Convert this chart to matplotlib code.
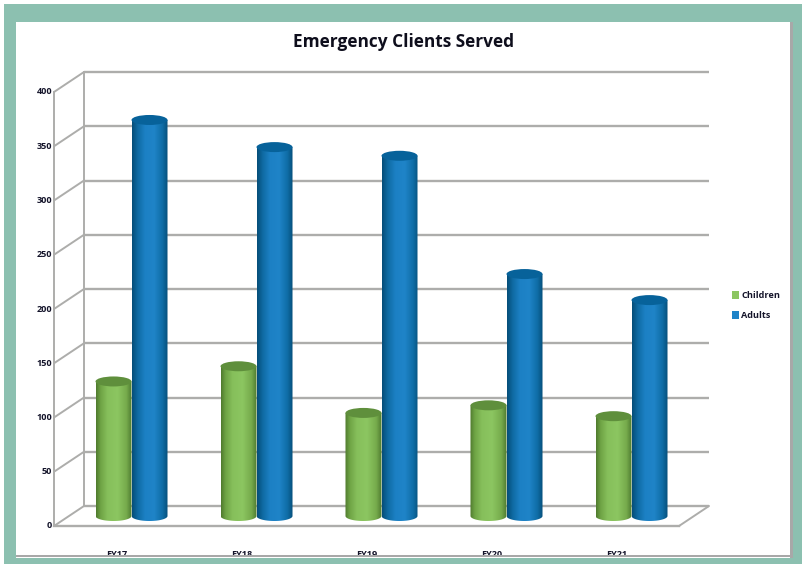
import numpy as np
import matplotlib
matplotlib.use("Agg")
import matplotlib.pyplot as plt
from matplotlib.patches import Rectangle, Ellipse, PathPatch
from matplotlib.path import Path
from matplotlib.colors import LinearSegmentedColormap
from matplotlib.transforms import Affine2D

categories = ["FY17", "FY18", "FY19", "FY20", "FY21"]
children = [124, 138, 95, 102, 92]
adults = [365, 340, 332, 223, 199]
y_ticks = [0, 50, 100, 150, 200, 250, 300, 350, 400]
title = "Emergency Clients Served"

W, H = 802, 564
FONT = ["Open Sans", "DejaVu Sans"]
TEAL = "#8CC0B0"
GRID = "#ADADAB"
TXT = "#14142A"

fig = plt.figure(figsize=(W / 100, H / 100), dpi=100, facecolor="white")

# page frame (figure-pixel rectangles)
def frame_rect(x0, y0, x1, y1, color):
    fig.add_artist(Rectangle((x0 / W, 1 - y1 / H), (x1 - x0) / W, (y1 - y0) / H,
                             transform=fig.transFigure, fc=color, ec="none"))

frame_rect(4, 4, 802, 22, TEAL)
frame_rect(4, 4, 16, 564, TEAL)
frame_rect(793, 4, 802, 564, TEAL)
frame_rect(4, 558, 802, 564, TEAL)
frame_rect(790, 22, 793, 558, "#A8A8A8")
frame_rect(16, 555, 793, 557, "#A8A8A8")

# front plane of the 3-D box
L, R, B, T = 54, 679, 526, 92
ax = fig.add_axes([L / W, 1 - B / H, (R - L) / W, (B - T) / H])
ax.set_xlim(0, len(categories))
ax.set_ylim(0, 400)
ax.axis("off")

DX, DY = 30, 20            # depth of the box, pixels
back = Affine2D().translate(DX, DY) + ax.transData if False else ax.transData + Affine2D().translate(DX, DY)
mid = ax.transData + Affine2D().translate(DX / 2, DY / 2)

n = len(categories)
for v in y_ticks:
    ax.plot([0, n], [v, v], transform=back, color=GRID, lw=1.7, clip_on=False, zorder=1,
            solid_capstyle="butt")
    # side wall diagonal
    x0, y0 = ax.transData.transform((0, v))
    ax.plot([0, 0], [v, v], color=GRID, lw=0)
    ax.annotate("", xy=(0, v), xycoords="data", xytext=(DX, DY), textcoords="offset pixels",
                arrowprops=dict(arrowstyle="-", color=GRID, lw=1.4, shrinkA=0, shrinkB=0), zorder=1)
    ax.text(-0.0145, v, str(v), ha="right", va="center", fontsize=6.6, fontweight="bold",
            family=FONT, color=TXT, clip_on=False)

# left wall vertical edges and floor
ax.plot([0, 0], [0, 400], color=GRID, lw=1.4, clip_on=False, zorder=1)
ax.plot([0, 0], [0, 400], transform=back, color=GRID, lw=1.4, clip_on=False, zorder=1)
ax.plot([0, n], [0, 0], color=GRID, lw=1.7, clip_on=False, zorder=1)
ax.annotate("", xy=(n, 0), xycoords="data", xytext=(DX, DY), textcoords="offset pixels",
            arrowprops=dict(arrowstyle="-", color=GRID, lw=1.4, shrinkA=0, shrinkB=0), zorder=1)

for i, c in enumerate(categories):
    ax.text(i + 0.5, -26, c, ha="center", va="center", fontsize=6.6, fontweight="bold",
            family=FONT, color=TXT, clip_on=False)

GREEN = LinearSegmentedColormap.from_list(
    "g", [(0, "#4F7A2E"), (0.13, "#6FA445"), (0.32, "#86BF5B"), (0.6, "#8CC661"),
          (0.85, "#76AB4C"), (1, "#4E7A30")])
BLUE = LinearSegmentedColormap.from_list(
    "b", [(0, "#054D78"), (0.16, "#0F6BA3"), (0.36, "#1C80C4"), (0.62, "#1F84C8"),
          (0.85, "#0F6DA6"), (1, "#064F7A")])
grad = np.linspace(0, 1, 128).reshape(1, -1)

BAR_W = 36 / 125           # width of one cylinder in category units
ELL_H = 10 * 400 / (B - T)  # ellipse height in value units


def cylinder(xc, val, cmap, top_color, z):
    x0, x1 = xc - BAR_W / 2, xc + BAR_W / 2
    k = 64
    t = np.linspace(np.pi, 2 * np.pi, k)
    xs = xc + BAR_W / 2 * np.cos(t)
    ys = ELL_H / 2 * np.sin(t)
    verts = list(zip(xs, ys)) + [(x1, val), (x0, val), (x0, ys[0])]
    codes = [Path.MOVETO] + [Path.LINETO] * (len(verts) - 2) + [Path.CLOSEPOLY]
    body = PathPatch(Path(verts, codes), transform=mid, fc="none", ec="none", zorder=z)
    ax.add_patch(body)
    im = ax.imshow(grad, cmap=cmap, extent=(x0, x1, -ELL_H, val), aspect="auto",
                   transform=mid, zorder=z, interpolation="bilinear")
    im.set_clip_path(body)
    ax.add_patch(Ellipse((xc, val), BAR_W, ELL_H, transform=mid, fc=top_color, ec="none",
                         zorder=z + 0.1, clip_on=False))


for i in range(n):
    cylinder(i + 0.5 - BAR_W / 2, children[i], GREEN, "#5F8F3C", 3 + i)
    cylinder(i + 0.5 + BAR_W / 2, adults[i], BLUE, "#07629A", 3.5 + i)

ax.set_xlim(0, n)
ax.set_ylim(0, 400)

fig.text(404 / W, 1 - 42 / H, title, ha="center", va="center", fontsize=12.4,
         fontweight="bold", family=FONT, color="#0E0E1C")

# legend
for y, name, col in [(295, "Children", "#8CC661"), (315, "Adults", "#1F84C8")]:
    frame_rect(732, y - 4, 739, y + 3.5, col)
    fig.text(741 / W, 1 - y / H, name, ha="left", va="center", fontsize=6.6,
             fontweight="bold", family=FONT, color=TXT)

fig.savefig("out.png", dpi=100, facecolor="white")
